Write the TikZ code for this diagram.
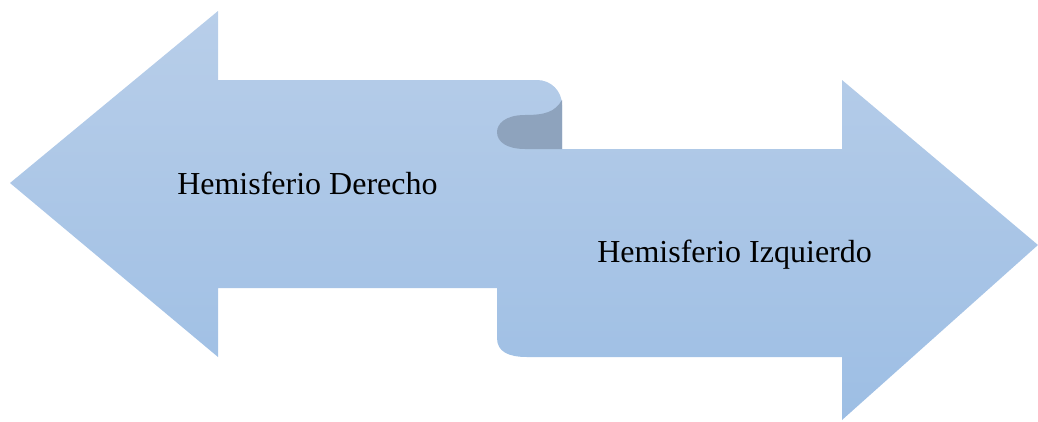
\documentclass[tikz,border=0pt]{standalone}
\usepackage{fontspec}
\setmainfont{Liberation Serif}
\usetikzlibrary{calc}

\definecolor{armtop}{RGB}{184,206,233}
\definecolor{armbot}{RGB}{157,190,228}
\definecolor{curl}{RGB}{142,163,189}

\begin{document}
\begin{tikzpicture}[x=0.75pt,y=-0.75pt]
\useasboundingbox (0,0) rectangle (1038,421);

% left arrow
\coordinate (lt) at (10,183);
\coordinate (la) at (218,11);
\coordinate (lb) at (218,80);
\coordinate (lc) at (537,80);
\coordinate (ld) at (562,105);
\coordinate (le) at (562,149);
\coordinate (lf) at (218,288);
\coordinate (lg) at (218,357);
% right arrow
\coordinate (ra) at (842,149);
\coordinate (rb) at (842,80);
\coordinate (rt) at (1038,245);
\coordinate (rc) at (842,420);
\coordinate (rd) at (842,357);
\coordinate (re) at (527,357);
\coordinate (rf) at (497,338);
\coordinate (rg) at (497,288);

\newcommand{\drawarrows}{
    \shade[top color=armtop, bottom color=armbot]
        (lt)--(la)--(lb)--(lc)
        .. controls (551,80) and (562,91) .. (ld)
        --(le)--(ra)--(rb)--(rt)--(rc)--(rd)--(re)
        .. controls (509,357) and (497,352) .. (rf)
        --(rg)--(lf)--(lg)--cycle;
}

\newcommand{\drawcurl}{
    \fill[curl] (562,100)
        .. controls (555,112) and (545,115) .. (525,115)
        .. controls (505,115) and (497,124) .. (497,132)
        .. controls (497,142) and (507,149) .. (525,149)
        --(le)--cycle;
}

\drawarrows
\drawcurl

\node[anchor=base west,inner sep=0pt,font=\fontsize{24}{28}\selectfont] (der) at (177,194) {Hemisferio Derecho};
\node[anchor=base west,inner sep=0pt,font=\fontsize{24}{28}\selectfont] (izq) at (597,262) {Hemisferio Izquierdo};

\end{tikzpicture}
\end{document}
